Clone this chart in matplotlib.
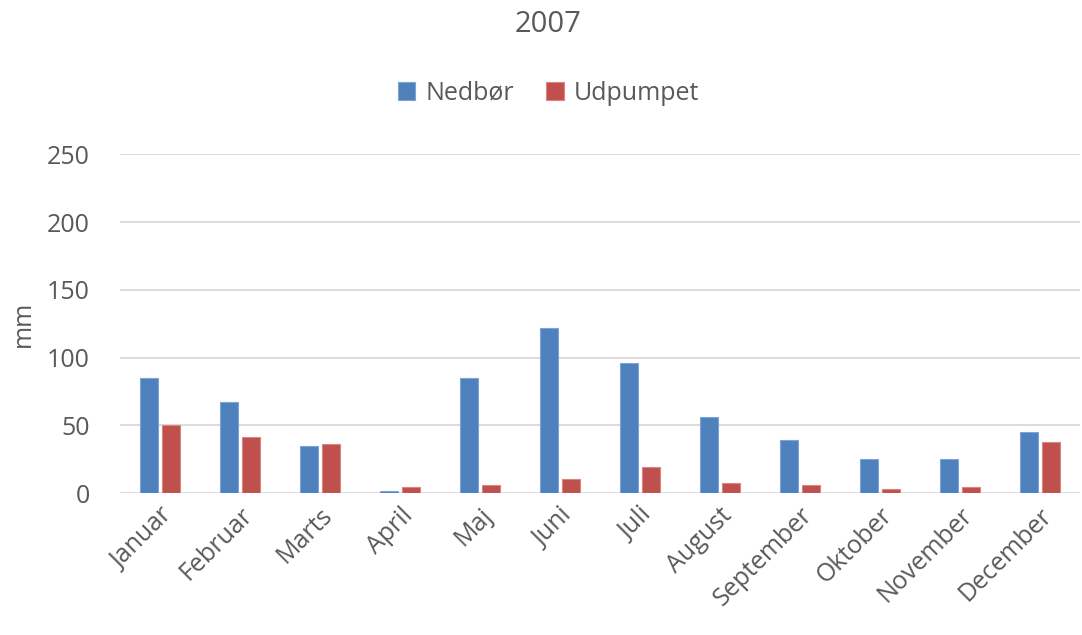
import numpy as np
import matplotlib.pyplot as plt

# data
months = ['Januar', 'Februar', 'Marts', 'April', 'Maj', 'Juni',
          'Juli', 'August', 'September', 'Oktober', 'November', 'December']
nedbor = [85, 67, 35, 1.5, 85, 122, 96, 56, 39, 25, 25, 45]
udpumpet = [50, 41, 36, 4.5, 6, 10, 19, 7.5, 6, 3, 4.5, 38]
yticks = [0, 50, 100, 150, 200, 250]

text_col = '#595959'
plt.rcParams['font.family'] = ['Open Sans', 'DejaVu Sans']

fig = plt.figure(figsize=(10.82, 6.35), dpi=100)
ax = fig.add_axes([0.111, 0.2236, 0.887, 0.5331])

x = np.arange(len(months))
w = 0.225
ax.bar(x - 0.14, nedbor, width=w, color='#4F81BD', edgecolor='#7FA3D6', linewidth=0.8, label='Nedbør', zorder=3)
ax.bar(x + 0.14, udpumpet, width=w, color='#C0504D', edgecolor='#D88583', linewidth=0.8, label='Udpumpet', zorder=3)

ax.set_xlim(-0.5, len(months) - 0.5)
ax.set_ylim(0, 250)
ax.set_yticks(yticks)
ax.set_xticks(x)
ax.set_xticklabels(months, rotation=45, ha='right', rotation_mode='anchor')
ax.tick_params(axis='both', length=0, labelsize=18, colors=text_col)
ax.tick_params(axis='y', pad=22)
ax.tick_params(axis='x', pad=7)
ax.grid(axis='y', color='#D9D9D9', linewidth=1.3, zorder=0)
for s in ax.spines.values():
    s.set_visible(False)

ax.set_ylabel('mm', fontsize=18, color=text_col, labelpad=8)
fig.text(0.5065, 0.962, '2007', ha='center', va='center', fontsize=21, color=text_col)
fig.legend(loc='center', bbox_to_anchor=(0.507, 0.853), ncol=2, frameon=False,
           fontsize=18, labelcolor=text_col, handlelength=0.7, handleheight=0.7,
           handletextpad=0.4, columnspacing=1.3)

fig.savefig('out.png', dpi=100)
